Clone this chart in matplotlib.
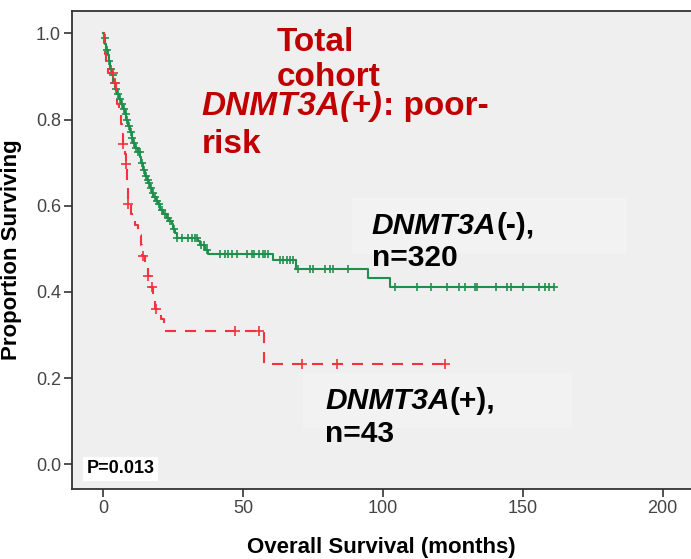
import numpy as np
import matplotlib
matplotlib.use("Agg")
import matplotlib.pyplot as plt
from matplotlib.patches import Rectangle

plt.rcParams['font.family'] = ['Liberation Sans', 'DejaVu Sans']

# Kaplan-Meier step values (time in months, survival after the event)
neg_times = [0, 0.3, 0.6, 1.0, 1.5, 2.0, 2.4, 3.0, 3.6, 4.2, 5.0, 5.6, 6.3, 7.0, 7.6,
             8.2, 8.9, 9.5, 10.1, 10.7, 11.5, 12.3, 13.1, 13.6, 14.3, 15.0, 15.6,
             16.1, 16.8, 17.4, 17.9, 18.8, 19.7, 20.3, 21.5, 22.7, 23.6, 24.5, 25.0,
             25.6, 26.2, 34.0, 34.6, 36.4, 37.5, 60.8, 68.8, 94.7, 102.5, 161.1]
neg_surv = [1.0, 0.990, 0.975, 0.962, 0.950, 0.935, 0.918, 0.903, 0.885, 0.872, 0.860,
            0.848, 0.835, 0.825, 0.812, 0.800, 0.785, 0.772, 0.758, 0.745, 0.735,
            0.725, 0.714, 0.700, 0.683, 0.670, 0.660, 0.652, 0.640, 0.630, 0.621,
            0.612, 0.603, 0.590, 0.580, 0.571, 0.565, 0.558, 0.547, 0.536, 0.525,
            0.517, 0.509, 0.497, 0.488, 0.474, 0.453, 0.432, 0.411, 0.411]
neg_censor = [0.5, 1.2, 2.0, 2.8, 3.3, 4.0, 4.6, 5.3, 6.0, 6.6, 7.3, 8.0, 8.5, 9.2, 9.8,
              10.4, 11.0, 11.8, 12.5, 13.0, 13.8, 14.6, 15.3, 16.0, 16.5, 17.2, 17.7,
              18.4, 19.2, 20.0, 21.0, 22.0, 23.0, 24.0, 25.3, 26.4, 28.2, 30.4, 31.8,
              32.9, 33.6, 35.0, 36.0, 36.9, 41.8, 43.6, 44.6, 46.0, 47.9, 51.4, 53.2,
              54.0, 55.7, 57.1, 57.9, 58.9, 63.2, 64.3, 65.7, 66.8, 67.9, 69.6, 73.9,
              75.0, 79.3, 81.0, 82.0, 87.5, 104.3, 112.1, 117.1, 122.9, 127.1, 129.3,
              132.9, 133.6, 140.4, 144.3, 145.7, 150.0, 155.7, 157.9, 159.3, 161.0]

pos_times = [0, 0.3, 0.6, 1.0, 1.5, 4.0, 4.4, 5.0, 5.6, 6.3, 6.8, 7.2, 7.6, 8.0, 8.3,
             8.5, 8.7, 8.9, 10.0, 11.5, 12.5, 13.5, 14.0, 15.0, 15.8, 16.8, 17.8, 18.5,
             20.5, 21.8, 57.5, 122.0]
pos_surv = [1.0, 0.977, 0.953, 0.930, 0.907, 0.884, 0.860, 0.837, 0.813, 0.790, 0.766,
            0.743, 0.720, 0.697, 0.673, 0.650, 0.627, 0.604, 0.580, 0.556, 0.532, 0.508,
            0.484, 0.460, 0.436, 0.411, 0.386, 0.361, 0.336, 0.310, 0.233, 0.233]
pos_censor = [3.6, 4.3, 7.2, 8.1, 8.9, 14.3, 16.1, 17.3, 19.0, 47.1, 55.8, 71.0, 83.6, 122.0]

green = '#1f8f4e'
red = '#f2333d'
dark_red = '#c00000'


def censor_y(times, surv, censor):
    idx = np.searchsorted(times, censor, side='right') - 1
    return np.asarray(surv)[idx]


fig = plt.figure(figsize=(6.91, 5.59), dpi=100)
ax = fig.add_axes([0.1042, 0.1247, 0.8958, 0.8565])
ax.set_facecolor('#efefef')
ax.set_xlim(-11.2, 210.1)
ax.set_ylim(-0.058, 1.053)

# faint label panels
ax.add_patch(Rectangle((88.8, 0.487), 98.5, 0.130, facecolor='#f2f2f2',
                       edgecolor='none', zorder=1))
ax.add_patch(Rectangle((71.4, 0.084), 96.2, 0.129, facecolor='#f2f2f2',
                       edgecolor='none', zorder=1))

ax.step(neg_times, neg_surv, where='post', color=green, lw=1.5, zorder=3)
ax.plot(neg_censor, censor_y(neg_times, neg_surv, neg_censor), ls='none',
        marker='+', ms=6, mew=1.2, color=green, zorder=3)

ax.step(pos_times, pos_surv, where='post', color=red, lw=1.5,
        ls=(0, (5.3, 4.3)), zorder=4)
ax.plot(pos_censor, censor_y(pos_times, pos_surv, pos_censor), ls='none',
        marker='+', ms=6.5, mew=1.2, color=red, zorder=4)

ax.set_xticks([0, 50, 100, 150, 200])
ax.set_yticks([0.0, 0.2, 0.4, 0.6, 0.8, 1.0])
ax.set_yticklabels(['0.0', '0.2', '0.4', '0.6', '0.8', '1.0'])
ax.tick_params(labelsize=13, labelcolor='#444444', color='#333333',
               length=6, width=1.2, direction='out', pad=2)
for side in ['left', 'bottom', 'top']:
    ax.spines[side].set_color('#333333')
    ax.spines[side].set_linewidth(1.3)
ax.spines['right'].set_visible(False)

ax.set_xlabel('Overall Survival (months)', fontsize=16, fontweight='bold', labelpad=14)
ax.set_ylabel('Proportion Surviving', fontsize=16, fontweight='bold', labelpad=10)


def put_line(x, y, pieces, size, color):
    renderer = fig.canvas.get_renderer()
    prev = None
    for s, style in pieces:
        if prev is not None:
            bb = prev.get_window_extent(renderer)
            x = ax.transData.inverted().transform((bb.x1, 0))[0]
        prev = ax.text(x, y, s, fontsize=size, fontweight='bold', fontstyle=style,
                       color=color, ha='left', va='baseline', zorder=5)


put_line(62.1, 0.958, [('Total', 'normal')], 24, dark_red)
put_line(62.1, 0.877, [('cohort', 'normal')], 24, dark_red)
put_line(35.2, 0.811, [('DNMT3A(+)', 'italic'), (': poor-', 'normal')], 24, dark_red)
put_line(35.2, 0.723, [('risk', 'normal')], 24, dark_red)

put_line(96.0, 0.534, [('DNMT3A', 'italic'), ('(-),', 'normal')], 21.5, 'black')
put_line(96.0, 0.459, [('n=320', 'normal')], 21.5, 'black')
put_line(79.3, 0.128, [('DNMT3A', 'italic'), ('(+),', 'normal')], 21.5, 'black')
put_line(79.3, 0.052, [('n=43', 'normal')], 21.5, 'black')

ax.text(-6.1, -0.021, 'P=0.013', fontsize=13, fontweight='bold', ha='left',
        va='baseline', zorder=5,
        bbox=dict(facecolor='white', edgecolor='none', pad=2.5))

fig.savefig('out.png', dpi=100)
